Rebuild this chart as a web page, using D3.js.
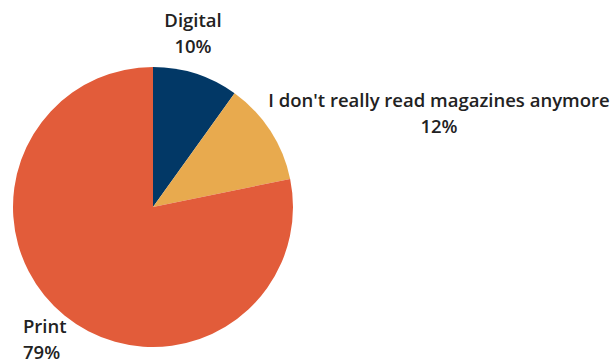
<!DOCTYPE html>
<html>
<head>
<meta charset="utf-8">
<script src="https://cdn.jsdelivr.net/npm/d3@7"></script>
<style>
  html, body { margin: 0; padding: 0; background: #fff; }
  svg text { font-family: "Open Sans", "Lato", sans-serif; font-size: 18.5px; font-weight: 600; fill: #222; }
</style>
</head>
<body>
<svg id="chart" width="615" height="364"></svg>
<script>
// Magazine reading preference
const categories = ["Digital", "I don't really read magazines anymore", "Print"];
const values = [10, 12, 79];
const colors = ["#023866", "#E8AA4E", "#E25C3A"];

const svg = d3.select("#chart");
const cx = 153, cy = 207, radius = 140;

const pie = d3.pie().sort(null).value(d => d.value);
const arc = d3.arc().innerRadius(0).outerRadius(radius);

const data = categories.map((c, i) => ({ name: c, value: values[i], color: colors[i] }));
const arcs = pie(data);

const g = svg.append("g").attr("transform", `translate(${cx},${cy})`);
g.selectAll("path")
  .data(arcs)
  .join("path")
  .attr("d", arc)
  .attr("fill", d => d.data.color);

// Label placement for each slice: x, baseline of first line, anchor
const labelPos = [
  { x: 193, y: 27, anchor: "middle" },
  { x: 439, y: 107, anchor: "middle" },
  { x: 23, y: 333, anchor: "start" }
];
const lineGap = 25.5;

const labels = svg.selectAll("text.lbl")
  .data(arcs)
  .join("text")
  .attr("class", "lbl")
  .attr("text-anchor", (d, i) => labelPos[i].anchor);

labels.append("tspan")
  .attr("x", (d, i) => labelPos[i].x)
  .attr("y", (d, i) => labelPos[i].y)
  .text(d => d.data.name);
labels.append("tspan")
  .attr("x", (d, i) => labelPos[i].x)
  .attr("dy", lineGap)
  .text(d => d.data.value + "%");
</script>
</body>
</html>
